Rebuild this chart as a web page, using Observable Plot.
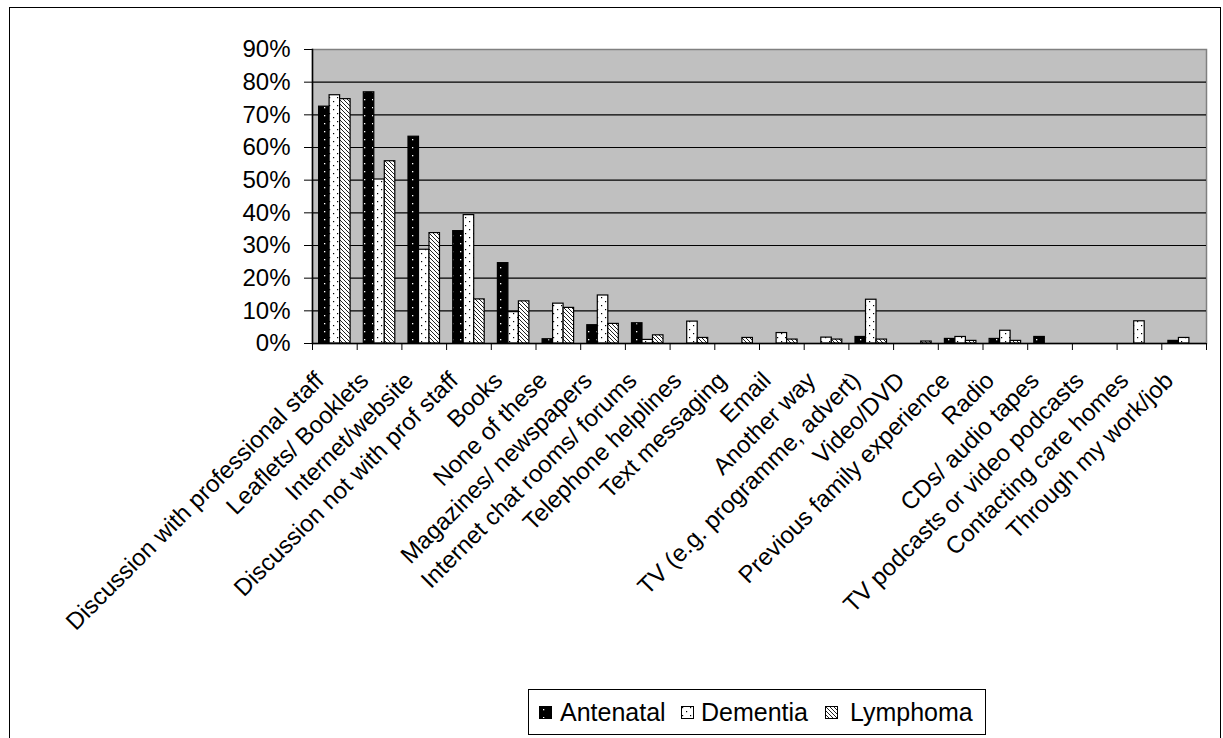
<!DOCTYPE html>
<html><head><meta charset="utf-8">
<script src="https://cdn.jsdelivr.net/npm/d3@7"></script>
<script src="https://cdn.jsdelivr.net/npm/@observablehq/plot@0.6"></script>
<style>
body{margin:0;background:#fff;font-family:"Liberation Sans",Arial,sans-serif;}
#wrap{position:relative;width:1223px;height:738px;overflow:hidden;}
#frame{position:absolute;left:9px;top:7px;width:1212px;height:760px;border:1.5px solid #000;box-sizing:border-box;}
#chart{position:absolute;left:0;top:0;}
#legend{position:absolute;left:528px;top:689px;width:458px;height:46px;border:1px solid #000;box-sizing:border-box;font-size:25px;background:#fff;}
#legend .sw{position:absolute;top:16px;}
#legend .tx{position:absolute;top:8px;line-height:28px;white-space:nowrap;}
</style>
</head><body>
<svg width="0" height="0" style="position:absolute">
<defs>
<pattern id="pAnt" patternUnits="userSpaceOnUse" width="8" height="8">
 <rect width="8" height="8" fill="#000"/>
 <rect x="4" y="3" width="1.3" height="1.3" fill="#fff"/>
</pattern>
<pattern id="pDem" patternUnits="userSpaceOnUse" width="8" height="8">
 <rect width="8" height="8" fill="#fff"/>
 <rect x="1" y="1" width="1.2" height="1.2" fill="#000"/>
 <rect x="5" y="5" width="1.2" height="1.2" fill="#000"/>
</pattern>
<pattern id="pLym" patternUnits="userSpaceOnUse" width="4" height="4">
 <rect width="4" height="4" fill="#fff"/>
 <path d="M-1,-1 L5,5 M-1,3 L1,5 M3,-1 L5,1" stroke="#222" stroke-width="1"/>
</pattern>
</defs></svg>
<div id="wrap">
<div id="frame"></div>
<div id="chart"></div>
<div id="legend"></div>
</div>
<script>
const categories = [
  "Discussion with professional staff",
  "Leaflets/ Booklets",
  "Internet/website",
  "Discussion not with prof staff",
  "Books",
  "None of these",
  "Magazines/ newspapers",
  "Internet chat rooms/ forums",
  "Telephone helplines",
  "Text messaging",
  "Email",
  "Another way",
  "TV (e.g. programme, advert)",
  "Video/DVD",
  "Previous family experience",
  "Radio",
  "CDs/ audio tapes",
  "TV podcasts or video podcasts",
  "Contacting care homes",
  "Through my work/job"
];
const seriesNames = ["Antenatal", "Dementia", "Lymphoma"];
const antenatal = [72.5, 76.9, 63.3, 34.4, 24.6, 1.3, 5.6, 6.2, 0, 0, 0, 0, 2.0, 0, 1.4, 1.4, 2.0, 0, 0, 0.8];
const dementia  = [76.0, 50.2, 28.7, 39.3, 9.6, 12.2, 14.7, 1.1, 6.7, 0, 3.2, 1.8, 13.4, 0, 2.0, 3.9, 0, 0, 6.8, 1.7];
const lymphoma  = [74.8, 55.8, 33.8, 13.5, 12.9, 10.9, 6.0, 2.5, 1.7, 1.7, 1.2, 1.2, 1.2, 0.6, 0.8, 0.8, 0, 0, 0, 0];
const yTicks = [0, 10, 20, 30, 40, 50, 60, 70, 80, 90];

const seriesValues = [antenatal, dementia, lymphoma];
const fills = ["url(#pAnt)", "url(#pDem)", "url(#pLym)"];
const rows = categories.flatMap((c, i) => seriesNames.map((s, k) => ({category: c, series: s, value: seriesValues[k][i]})));

const W = 1223, H = 738;
const mL = 312, mR = 17, mT = 49, mB = 395;
const step = (W - mL - mR) / categories.length;
const bw = 10.5;
const off = (step - 3 * bw) / 2;

const barMarks = seriesNames.map((s, k) => Plot.barY(rows.filter(d => d.series === s && d.value > 0), {
  x: "category", y: "value", fill: fills[k], stroke: "#000", strokeWidth: 1.2,
  insetLeft: off + k * bw, insetRight: step - (off + (k + 1) * bw)
}));

const plot = Plot.plot({
  width: W, height: H,
  marginLeft: mL, marginRight: mR, marginTop: mT, marginBottom: mB,
  style: {fontFamily: '"Liberation Sans", Arial, sans-serif', fontSize: "24px", background: "transparent", color: "#000"},
  x: {type: "band", domain: categories, padding: 0, round: false, label: null},
  y: {domain: [0, 90], label: null},
  marks: [
    Plot.frame({fill: "#c0c0c0", stroke: "#808080", strokeWidth: 1.5}),
    Plot.gridY(yTicks.filter(t => t > 0 && t < 90), {stroke: "#000", strokeOpacity: 1, strokeWidth: 1.2}),
    ...barMarks,
    Plot.ruleY([0], {stroke: "#000", strokeWidth: 1.5}),
    Plot.frame({anchor: "left", stroke: "#000", strokeWidth: 1.5}),
    Plot.axisY({ticks: yTicks, tickSize: 8, tickPadding: 14, tickFormat: d => d + "%", fontSize: 24, label: null}),
    Plot.axisX({tickSize: 7, tickFormat: () => "", dx: step / 2, label: null}),
    Plot.axisX({ticks: [categories[0]], tickSize: 7, tickFormat: () => "", dx: -step / 2, label: null}),
    Plot.axisX({tickSize: 0, tickRotate: -45, tickPadding: 33, dx: -15, fontSize: 24, label: null})
  ]
});
document.getElementById("chart").appendChild(plot);

const legend = document.getElementById("legend");
const swX = [10, 152, 296];
const txX = [31, 172, 321];
seriesNames.forEach((s, k) => {
  const sw = document.createElement("div");
  sw.className = "sw";
  sw.style.left = swX[k] + "px";
  sw.innerHTML = `<svg width="13" height="13" style="display:block"><rect x="0.5" y="0.5" width="12" height="12" fill="${fills[k]}" stroke="#000" stroke-width="1"/></svg>`;
  legend.appendChild(sw);
  const tx = document.createElement("div");
  tx.className = "tx";
  tx.style.left = txX[k] + "px";
  tx.textContent = s;
  legend.appendChild(tx);
});
</script>
</body></html>
